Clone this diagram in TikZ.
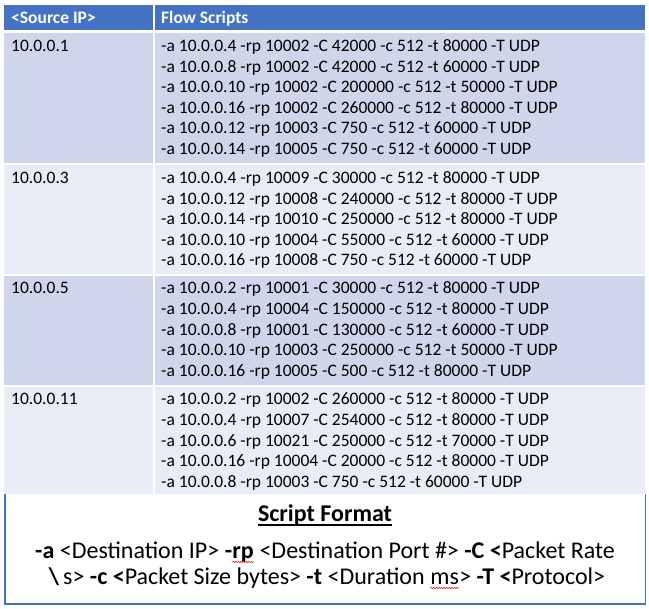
\documentclass[tikz,border=0pt]{standalone}
\usepackage{fontspec}
\setmainfont{Carlito}
\usetikzlibrary{decorations.pathmorphing}
\definecolor{hdr}{HTML}{4472C4}
\definecolor{rowA}{HTML}{CFD5EA}
\definecolor{rowB}{HTML}{E9EBF5}
\definecolor{squig}{HTML}{E02020}
\newcommand\redwave[1]{\tikz[baseline=(w.base)]{\node[inner sep=0pt,outer sep=0pt,anchor=base] (w) {#1};
  \draw[squig, line width=0.6pt, decorate, decoration={snake, amplitude=0.7pt, segment length=2.6pt}] ([yshift=-3pt]w.base west) -- ([yshift=-3pt]w.base east);}}
\newcommand\flines[1]{\begin{tabular}[t]{@{}l@{}}#1\end{tabular}}
\begin{document}
\begin{tikzpicture}[x=1pt,y=-1pt,
  cell/.style={anchor=base west, inner sep=0pt, font=\fontsize{17.5}{20.6}\selectfont},
  hcell/.style={anchor=base west, inner sep=0pt, text=white, font=\fontsize{17.5}{20.6}\selectfont\bfseries},
  fmt/.style={anchor=base, inner sep=0pt, font=\fontsize{24}{26}\selectfont},
  boxline/.style={draw=hdr, line width=1.3pt}]
\useasboundingbox[fill=white] (0,0) rectangle (649,609);
% header
\fill[hdr] (4,5) rectangle (153,30);
\fill[hdr] (155,5) rectangle (645,30);
% rows
\fill[rowA] (4,33) rectangle (153,163);
\fill[rowA] (155,33) rectangle (645,163);
\fill[rowB] (4,165) rectangle (153,274);
\fill[rowB] (155,165) rectangle (645,274);
\fill[rowA] (4,276) rectangle (153,385);
\fill[rowA] (155,276) rectangle (645,385);
\fill[rowB] (4,387) rectangle (153,494);
\fill[rowB] (155,387) rectangle (645,494);
% bottom box
\draw[boxline] (5,494.5) -- (5,604) -- (645.5,604) -- (645.5,494.5);
% header text
\node[hcell] (hip) at (11,24) {<Source IP>};
\node[hcell] (hfs) at (161,24) {Flow Scripts};
% row 1
\node[cell] (ip1) at (11,51.5) {10.0.0.1};
\node[cell] (fs1) at (161,51.5) {\flines{%
-a 10.0.0.4 -rp 10002 -C 42000 -c 512 -t 80000 -T UDP\\
-a 10.0.0.8 -rp 10002 -C 42000 -c 512 -t 60000 -T UDP\\
-a 10.0.0.10 -rp 10002 -C 200000 -c 512 -t 50000 -T UDP\\
-a 10.0.0.16 -rp 10002 -C 260000 -c 512 -t 80000 -T UDP\\
-a 10.0.0.12 -rp 10003 -C 750 -c 512 -t 60000 -T UDP\\
-a 10.0.0.14 -rp 10005 -C 750 -c 512 -t 60000 -T UDP}};
% row 2
\node[cell] (ip2) at (11,183.5) {10.0.0.3};
\node[cell] (fs2) at (161,183.5) {\flines{%
-a 10.0.0.4 -rp 10009 -C 30000 -c 512 -t 80000 -T UDP\\
-a 10.0.0.12 -rp 10008 -C 240000 -c 512 -t 80000 -T UDP\\
-a 10.0.0.14 -rp 10010 -C 250000 -c 512 -t 80000 -T UDP\\
-a 10.0.0.10 -rp 10004 -C 55000 -c 512 -t 60000 -T UDP\\
-a 10.0.0.16 -rp 10008 -C 750 -c 512 -t 60000 -T UDP}};
% row 3
\node[cell] (ip3) at (11,294) {10.0.0.5};
\node[cell] (fs3) at (161,294) {\flines{%
-a 10.0.0.2 -rp 10001 -C 30000 -c 512 -t 80000 -T UDP\\
-a 10.0.0.4 -rp 10004 -C 150000 -c 512 -t 80000 -T UDP\\
-a 10.0.0.8 -rp 10001 -C 130000 -c 512 -t 60000 -T UDP\\
-a 10.0.0.10 -rp 10003 -C 250000 -c 512 -t 50000 -T UDP\\
-a 10.0.0.16 -rp 10005 -C 500 -c 512 -t 80000 -T UDP}};
% row 4
\node[cell] (ip4) at (11,405) {10.0.0.11};
\node[cell] (fs4) at (161,405) {\flines{%
-a 10.0.0.2 -rp 10002 -C 260000 -c 512 -t 80000 -T UDP\\
-a 10.0.0.4 -rp 10007 -C 254000 -c 512 -t 80000 -T UDP\\
-a 10.0.0.6 -rp 10021 -C 250000 -c 512 -t 70000 -T UDP\\
-a 10.0.0.16 -rp 10004 -C 20000 -c 512 -t 80000 -T UDP\\
-a 10.0.0.8 -rp 10003 -C 750 -c 512 -t 60000 -T UDP}};
% script format
\node[fmt, font=\fontsize{24}{26}\selectfont\bfseries] (sf) at (325,522) {Script Format};
\draw[line width=1.6pt] ([yshift=-3pt]sf.base west) -- ([yshift=-3pt]sf.base east);
\node[fmt] (f1) at (325,559) {\textbf{-a} <Destination IP> \textbf{-\redwave{rp}} <Destination Port \#> \textbf{-C <}Packet Rate};
\node[fmt] (f2) at (327,585) {\textbf{\textbackslash}\,s> \textbf{-c <}Packet Size bytes> \textbf{-t} <Duration \redwave{ms}> \textbf{-T <}Protocol>};
\end{tikzpicture}
\end{document}
